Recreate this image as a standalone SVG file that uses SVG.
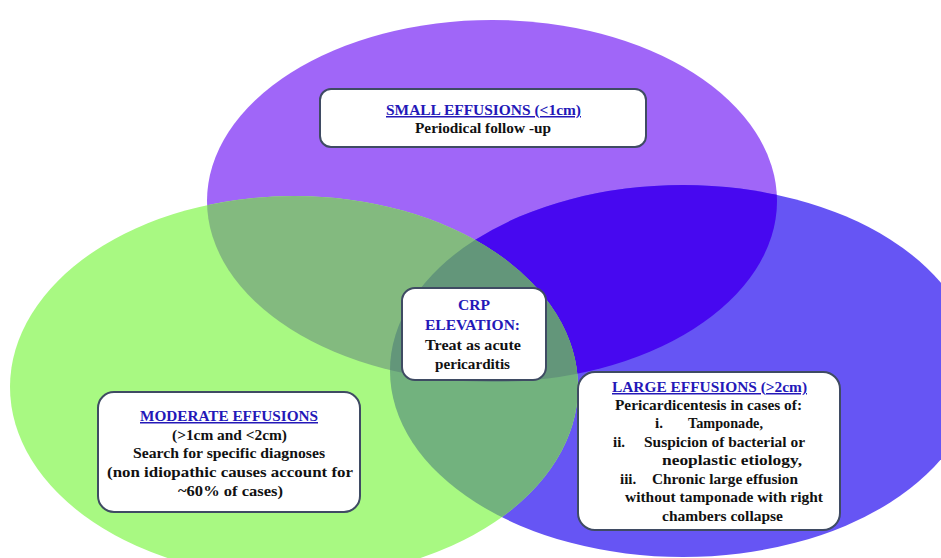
<svg xmlns="http://www.w3.org/2000/svg" width="941" height="558" viewBox="0 0 941 558">
<style>
.box{fill:#ffffff;stroke:#3f4b63;stroke-width:2}
.t{font-family:"Liberation Serif","Times New Roman",serif;font-weight:bold;font-size:15px;fill:#111111;text-anchor:middle}
.h{fill:#2418b8}
.u{text-decoration:underline}
.l{text-anchor:start}
</style>
<defs>
<ellipse id="eP" cx="492" cy="201" rx="285" ry="181"/>
<ellipse id="eG" cx="294" cy="387" rx="284" ry="191"/>
<ellipse id="eB" cx="683" cy="371" rx="293" ry="186"/>
<clipPath id="cP"><use href="#eP"/></clipPath>
<clipPath id="cG"><use href="#eG"/></clipPath>
<clipPath id="cB"><use href="#eB"/></clipPath>
</defs>
<rect x="0" y="0" width="941" height="558" fill="#ffffff"/>
<g id="venn">
<use href="#eP" fill="#a066f8"/>
<use href="#eB" fill="#6655f4"/>
<use href="#eG" fill="#a8f982"/>
<use href="#eB" fill="#4708f0" clip-path="url(#cP)"/>
<use href="#eG" fill="#83ba7f" clip-path="url(#cP)"/>
<use href="#eG" fill="#72b27e" clip-path="url(#cB)"/>
<g clip-path="url(#cP)"><use href="#eG" fill="#63967a" clip-path="url(#cB)"/></g>
</g>
<g id="small">
<rect class="box" x="320" y="89" width="326" height="58" rx="11"/>
<text class="t h u" x="483.5" y="115" textLength="195" lengthAdjust="spacingAndGlyphs">SMALL EFFUSIONS (&lt;1cm)</text>
<text class="t" x="483" y="133" textLength="136" lengthAdjust="spacingAndGlyphs">Periodical follow -up</text>
</g>
<g id="crp">
<rect class="box" x="402" y="288" width="144" height="92" rx="13"/>
<text class="t h" x="474" y="310" textLength="32" lengthAdjust="spacingAndGlyphs">CRP</text>
<text class="t h" x="472.5" y="330" textLength="95" lengthAdjust="spacingAndGlyphs">ELEVATION:</text>
<text class="t" x="473" y="350" textLength="96" lengthAdjust="spacingAndGlyphs">Treat as acute</text>
<text class="t" x="472.5" y="369" textLength="75" lengthAdjust="spacingAndGlyphs">pericarditis</text>
</g>
<g id="moderate">
<rect class="box" x="98" y="392" width="262" height="120" rx="16"/>
<text class="t h u" x="229" y="421" textLength="178" lengthAdjust="spacingAndGlyphs">MODERATE EFFUSIONS</text>
<text class="t" x="229.5" y="440" textLength="115" lengthAdjust="spacingAndGlyphs">(&gt;1cm and &lt;2cm)</text>
<text class="t" x="229" y="458" textLength="192" lengthAdjust="spacingAndGlyphs">Search for specific diagnoses</text>
<text class="t" x="230" y="477" textLength="246" lengthAdjust="spacingAndGlyphs">(non idiopathic causes account for</text>
<text class="t" x="230.5" y="496" textLength="105" lengthAdjust="spacingAndGlyphs">~60% of cases)</text>
</g>
<g id="large">
<rect class="box" x="578" y="372" width="262" height="158" rx="17"/>
<text class="t h u" x="709.5" y="392" textLength="195" lengthAdjust="spacingAndGlyphs">LARGE EFFUSIONS (&gt;2cm)</text>
<text class="t" x="708.5" y="410" textLength="187" lengthAdjust="spacingAndGlyphs">Pericardicentesis in cases of:</text>
<text class="t l" x="655" y="428">i.</text>
<text class="t l" x="688" y="428" textLength="75" lengthAdjust="spacingAndGlyphs">Tamponade,</text>
<text class="t l" x="613" y="447">ii.</text>
<text class="t l" x="644" y="447" textLength="161" lengthAdjust="spacingAndGlyphs">Suspicion of bacterial or</text>
<text class="t l" x="662" y="465" textLength="140" lengthAdjust="spacingAndGlyphs">neoplastic etiology,</text>
<text class="t l" x="620" y="484">iii.</text>
<text class="t l" x="652" y="484" textLength="146" lengthAdjust="spacingAndGlyphs">Chronic large effusion</text>
<text class="t l" x="625" y="502" textLength="198" lengthAdjust="spacingAndGlyphs">without tamponade with right</text>
<text class="t l" x="662" y="521" textLength="121" lengthAdjust="spacingAndGlyphs">chambers collapse</text>
</g>
</svg>
